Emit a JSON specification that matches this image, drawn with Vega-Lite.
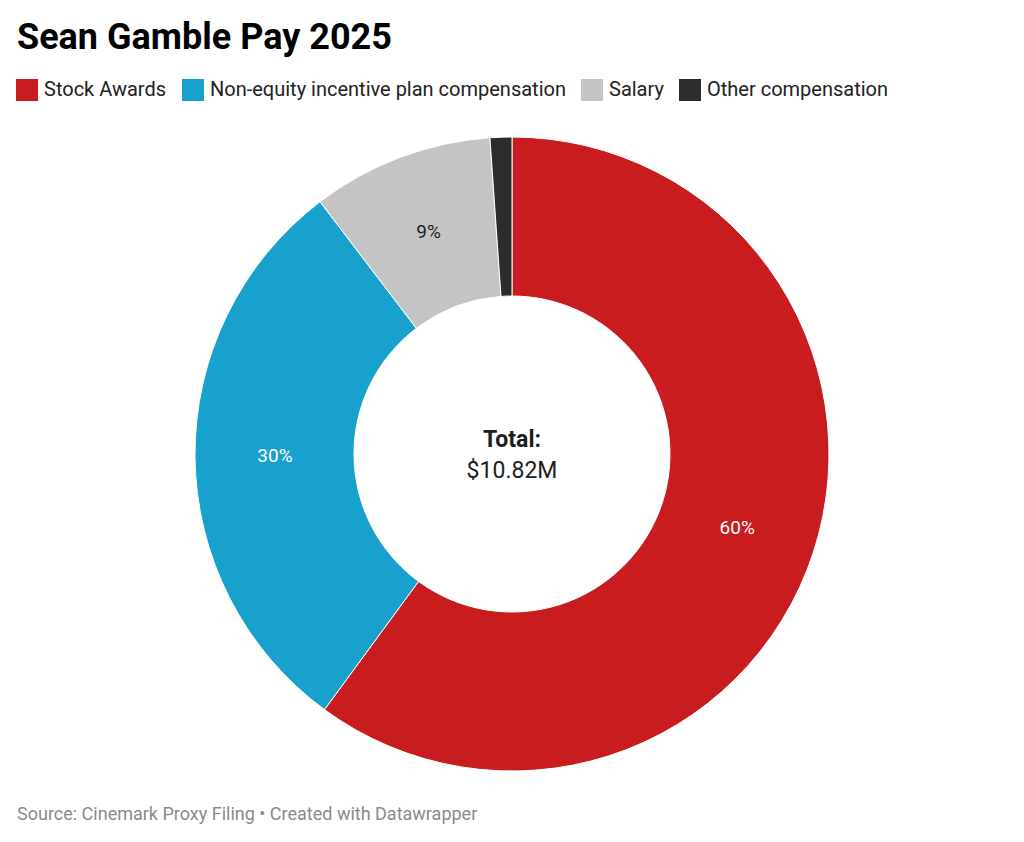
{
  "$schema": "https://vega.github.io/schema/vega-lite/v6.json",
  "width": 1024,
  "height": 776,
  "autosize": "none",
  "padding": {"top": 66, "left": 0, "right": 0, "bottom": 0},
  "background": "white",
  "title": {
    "text": "Sean Gamble Pay 2025",
    "anchor": "start",
    "frame": "group",
    "font": "Roboto",
    "fontSize": 36,
    "fontWeight": "bold",
    "color": "#000000",
    "dx": 17,
    "offset": 9
  },
  "config": {
    "view": {"stroke": null},
    "font": "Roboto"
  },
  "datasets": {
    "pay": [
      {"category": "Stock Awards", "amount": 6500000},
      {"category": "Non-equity incentive plan compensation", "amount": 3200000},
      {"category": "Salary", "amount": 1000000},
      {"category": "Other compensation", "amount": 120000}
    ],
    "total": [{"label": "Total:", "value": "$10.82M"}],
    "note": [{"text": "Source: Cinemark Proxy Filing • Created with Datawrapper"}]
  },
  "layer": [
    {
      "data": {"name": "pay"},
      "mark": {"type": "arc", "outerRadius": 317, "innerRadius": 158, "stroke": "white", "strokeWidth": 1},
      "encoding": {
        "theta": {"field": "amount", "type": "quantitative", "stack": true},
        "order": {"field": "amount", "sort": "descending"},
        "color": {
          "field": "category",
          "type": "nominal",
          "scale": {
            "domain": ["Stock Awards", "Non-equity incentive plan compensation", "Salary", "Other compensation"],
            "range": ["#c81c1e", "#18a1cd", "#c4c4c4", "#2c2c2c"]
          },
          "legend": {
            "title": null,
            "orient": "none",
            "legendX": 16,
            "legendY": 13,
            "direction": "horizontal",
            "symbolType": "square",
            "symbolSize": 484,
            "symbolStrokeWidth": 0,
            "symbolOpacity": 1,
            "labelFont": "Roboto",
            "labelFontSize": 20,
            "labelColor": "#222222",
            "labelOffset": 6,
            "labelLimit": 0,
            "columnPadding": 15
          }
        }
      }
    },
    {
      "data": {"name": "pay"},
      "transform": [
        {"joinaggregate": [{"op": "sum", "field": "amount", "as": "sum"}]},
        {"calculate": "datum.amount / datum.sum", "as": "share"}
      ],
      "mark": {"type": "text", "radius": 237, "font": "Roboto", "fontSize": 19},
      "encoding": {
        "theta": {"field": "amount", "type": "quantitative", "stack": true},
        "order": {"field": "amount", "sort": "descending"},
        "text": {"field": "share", "type": "quantitative", "format": ".0%"},
        "color": {
          "condition": {"test": "datum.category == 'Salary'", "value": "#1d1d1d"},
          "value": "#ffffff"
        },
        "opacity": {
          "condition": {"test": "datum.share < 0.05", "value": 0},
          "value": 1
        }
      }
    },
    {
      "data": {"name": "total"},
      "mark": {"type": "text", "font": "Roboto", "fontSize": 23, "fontWeight": "bold", "color": "#1d1d1d", "baseline": "alphabetic", "dy": -7},
      "encoding": {"text": {"field": "label"}}
    },
    {
      "data": {"name": "total"},
      "mark": {"type": "text", "font": "Roboto", "fontSize": 23, "color": "#1d1d1d", "baseline": "alphabetic", "dy": 24},
      "encoding": {"text": {"field": "value"}}
    },
    {
      "data": {"name": "note"},
      "mark": {"type": "text", "font": "Roboto", "fontSize": 18, "color": "#8a8a8a", "align": "left", "baseline": "alphabetic", "x": 17, "y": 754},
      "encoding": {"text": {"field": "text"}}
    }
  ]
}
